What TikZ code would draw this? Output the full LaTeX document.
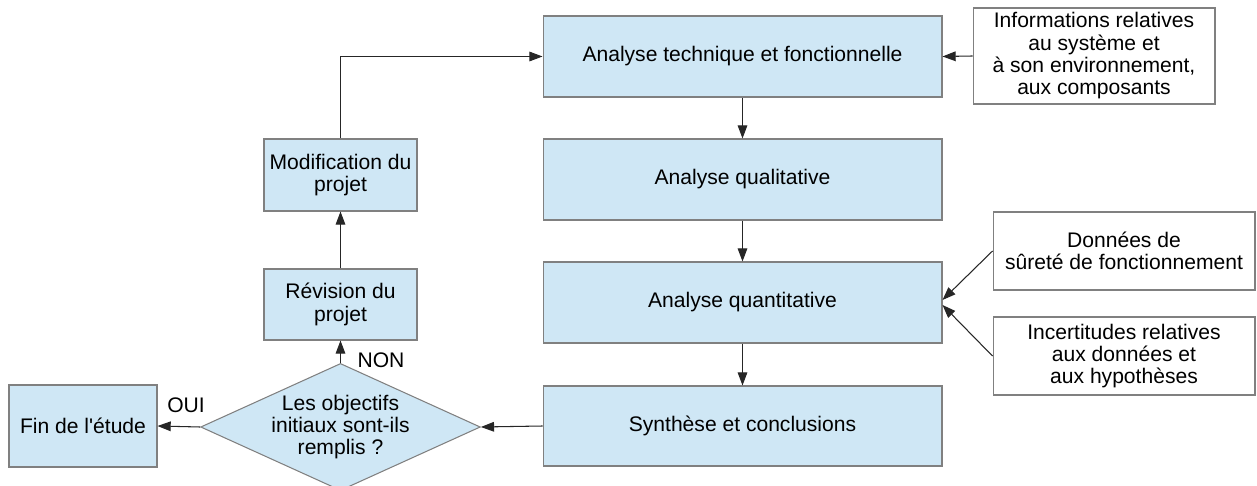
\documentclass[tikz,border=0pt]{standalone}
\usepackage{fontspec}
\setmainfont{Liberation Sans}
\usetikzlibrary{shapes.geometric,arrows.meta}
\definecolor{boxblue}{RGB}{207,231,245}
\definecolor{boxline}{RGB}{128,128,128}

\begin{document}
\begin{tikzpicture}[x=0.02cm,y=-0.02cm,
  bloc/.style={draw=boxline,fill=boxblue,line width=0.6pt,inner sep=0pt,align=center,font=\fontsize{12}{12.7}\selectfont},
  entree/.style={bloc,fill=white},
  etiq/.style={inner sep=0pt,font=\fontsize{12}{12.7}\selectfont},
  fleche/.style={-{Triangle[length=7.5pt,width=5.5pt]},line width=0.6pt,black!85}]
\useasboundingbox (0,0) rectangle (1257,486);

\node[bloc,minimum width=7.98cm,minimum height=1.62cm] (tech) at (742.5,56.5) {Analyse technique et fonctionnelle};
\node[bloc,minimum width=7.98cm,minimum height=1.62cm] (qual) at (742.5,179.5) {Analyse qualitative};
\node[bloc,minimum width=7.98cm,minimum height=1.62cm] (quant) at (742.5,302.5) {Analyse quantitative};
\node[bloc,minimum width=7.98cm,minimum height=1.6cm] (synth) at (742.5,426) {Synth\`ese et conclusions};

\node[entree,minimum width=4.84cm,minimum height=1.92cm] (info) at (1094,56) {Informations relatives\\au syst\`eme et\\\`a son environnement,\\aux composants};
\node[entree,minimum width=5.24cm,minimum height=1.56cm] (donnees) at (1124,251) {Donn\'ees de\\s\^uret\'e de fonctionnement};
\node[entree,minimum width=5.24cm,minimum height=1.56cm] (incert) at (1124,356) {Incertitudes relatives\\aux donn\'ees et\\aux hypoth\`eses};

\node[bloc,minimum width=3.06cm,minimum height=1.44cm] (modif) at (340.5,175) {Modification du\\projet};
\node[bloc,minimum width=3.06cm,minimum height=1.42cm] (revis) at (340.5,304.5) {R\'evision du\\projet};
\node[bloc,shape=diamond,shape aspect=2.2,minimum width=5.5cm,minimum height=2.48cm] (decision) at (340.5,427) {Les objectifs\\initiaux sont-ils\\remplis ?};
\node[bloc,minimum width=2.96cm,minimum height=1.64cm] (fin) at (83,426) {Fin de l\textquotesingle\'etude};

\node[etiq] (oui) at (186,405) {OUI};
\node[etiq] (non) at (381,360) {NON};

\draw[fleche] (info.west) -- (tech.east);
\draw[fleche] (tech) -- (qual);
\draw[fleche] (qual) -- (quant);
\draw[fleche] (quant) -- (synth);
\draw[fleche] (synth.west) -- (decision.east);
\draw[fleche] (decision.west) -- (fin.east);
\draw[fleche] (decision.north) -- (revis.south);
\draw[fleche] (revis) -- (modif);
\draw[fleche] (modif.north) |- (tech.west);
\draw[fleche] (donnees.west) -- ([yshift=0.05cm]quant.east);
\draw[fleche] (incert.west) -- ([yshift=-0.05cm]quant.east);

\end{tikzpicture}
\end{document}
